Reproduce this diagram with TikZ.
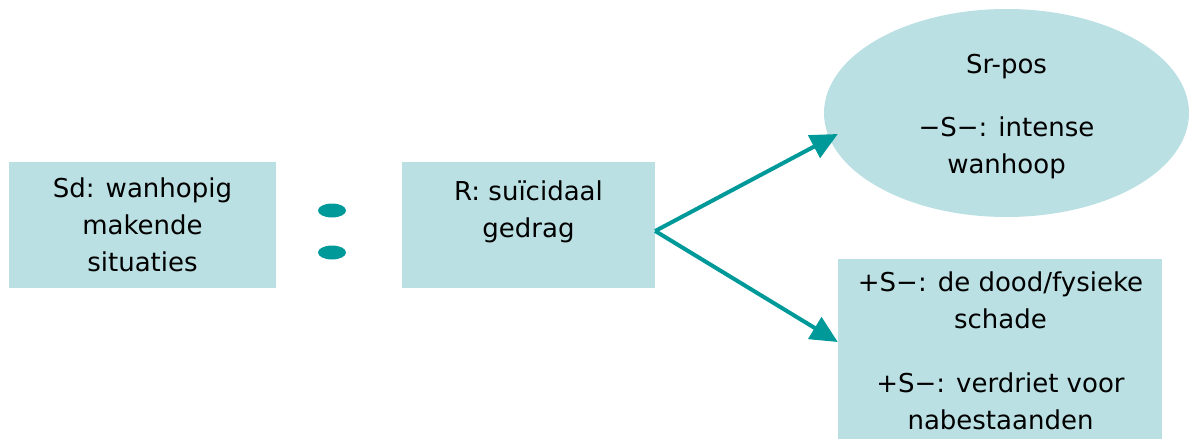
\documentclass[tikz,border=0pt]{standalone}
\usepackage{fontspec}
\setmainfont{DejaVu Sans}
\usetikzlibrary{arrows.meta,shapes.geometric}
\definecolor{boxfill}{HTML}{BBE0E3}
\definecolor{teal}{HTML}{009999}
\begin{document}
\begin{tikzpicture}[x=1pt,y=-1pt,
  box/.style={rectangle,fill=boxfill,draw=none,inner sep=0pt},
  oval/.style={ellipse,fill=boxfill,draw=none,inner sep=0pt},
  txt/.style={align=center,inner sep=0pt,font=\fontsize{26pt}{37pt}\selectfont},
  dot/.style={ellipse,fill=teal,draw=none,inner sep=0pt,minimum width=28pt,minimum height=14pt},
  link/.style={draw=teal,line width=4pt,-{Triangle[length=27pt,width=25pt]}}]
\useasboundingbox (0,0) rectangle (1190,439);

% stimulus, response and consequences
\node[box,minimum width=267pt,minimum height=126pt] (sd) at (142.5,225) {};
\node[box,minimum width=253pt,minimum height=126pt] (r) at (528.5,225) {};
\node[oval,minimum width=365pt,minimum height=208pt] (sr) at (1006.5,113) {};
\node[box,minimum width=324pt,minimum height=180pt] (cons) at (1000,349) {};

\node[txt] (sdtext) at (sd.center) {Sd: wanhopig\\makende\\situaties};
\node[txt] (rtext) at (528.5,212) {R: suïcidaal\\gedrag};
\node[txt] (srtext) at (1006.5,116.5) {Sr-pos\\[26pt]−S−: intense\\wanhoop};
\node[txt] (constext) at (1000.5,351) {+S−: de dood/fysieke\\schade\\[27pt]+S−: verdriet voor\\nabestaanden};

% colon between Sd and R
\node[dot] (dotA) at (332,210.5) {};
\node[dot] (dotB) at (332,252.5) {};

% branching arrows
\coordinate (fork) at ([shift={(0,6)}]r.east);
\coordinate (tipA) at ([shift={(14,21)}]sr.west);
\coordinate (tipB) at ([shift={(0,-7)}]cons.west);
\draw[link] (fork) -- (tipA);
\draw[link] (fork) -- (tipB);
\end{tikzpicture}
\end{document}
